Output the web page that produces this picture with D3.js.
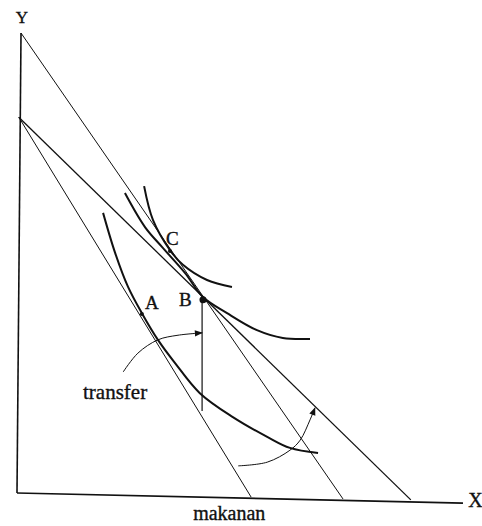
<!DOCTYPE html>
<html>
<head>
<meta charset="utf-8">
<script src="https://cdn.jsdelivr.net/npm/d3@7"></script>
<style>
  html, body { margin: 0; padding: 0; background: #fff; }
  svg { display: block; }
  text { font-family: "Liberation Serif", "DejaVu Serif", serif; fill: #111; stroke: #111; stroke-width: 0.35; }
</style>
</head>
<body>
<div id="chart"></div>
<script>
// values, in chart units (0..100 on both axes)
const yAxisLine = [[0.9, 100], [0, 0]];
const xAxisLine = [[0, 0], [100, -2.2]];

const budgetOriginal = [[0.4, 81.7], [52.5, -0.9]];
const budgetSubsidy = [[0.4, 81.7], [88.3, -1.5]];
const budgetCash = [[0.9, 100], [73.1, -1.3]];
const transferLine = [[41.5, 42.0], [41.5, 17.8]];

const curveA = [[19.3, 60.9], [22.0, 52.2], [24.9, 44.8], [28.0, 39.1], [31.6, 33.3], [35.4, 28.3],
                [41.0, 21.7], [48.4, 16.5], [56.1, 12.2], [61.2, 9.8], [67.5, 8.7]];
const curveB = [[24.2, 65.2], [28.7, 57.8], [32.5, 53.5], [37.7, 47.8], [41.7, 42.6], [47.1, 39.1],
                [53.8, 35.4], [59.6, 33.7], [65.7, 33.5]];
const curveC = [[28.5, 66.7], [30.5, 59.3], [34.3, 52.8], [37.2, 49.6], [42.6, 46.3], [48.2, 44.8]];

const arrowTransfer = [[23.8, 26.3], [27.1, 30.4], [31.6, 33.3], [36.1, 34.3], [41.5, 34.8]];
const arrowShift = [[49.6, 5.9], [56.1, 6.7], [61.2, 9.3], [63.5, 11.5], [65.7, 15.9], [66.8, 18.5]];

const points = [
  { name: "A", x: 28.0, y: 38.9, r: 2 },
  { name: "B", x: 41.7, y: 42.0, r: 3.5 },
  { name: "C", x: 34.3, y: 52.6, r: 2 }
];

const labels = [
  { text: "Y", x: 1.1, y: 102.2, size: 17, anchor: "middle" },
  { text: "X", x: 101.2, y: -3.1, size: 20, anchor: "start" },
  { text: "A", x: 28.7, y: 40.0, size: 19, anchor: "start" },
  { text: "B", x: 36.3, y: 40.6, size: 19, anchor: "start" },
  { text: "C", x: 33.4, y: 53.9, size: 19, anchor: "start" },
  { text: "transfer", x: 14.8, y: 20.4, size: 21, anchor: "start" },
  { text: "makanan", x: 39.5, y: -5.9, size: 20, anchor: "start" }
];

const width = 482, height = 526;

const x = d3.scaleLinear().domain([0, 100]).range([17, 463]);
const y = d3.scaleLinear().domain([0, 100]).range([493, 33]);

const svg = d3.select("#chart").append("svg")
  .attr("width", width)
  .attr("height", height)
  .attr("viewBox", `0 0 ${width} ${height}`);

svg.append("defs").append("marker")
  .attr("id", "head")
  .attr("viewBox", "0 0 10 10")
  .attr("refX", 9)
  .attr("refY", 5)
  .attr("markerWidth", 10)
  .attr("markerHeight", 8)
  .attr("markerUnits", "userSpaceOnUse")
  .attr("orient", "auto")
  .append("path")
  .attr("d", "M0,1 L10,5 L0,9 Z")
  .attr("fill", "#111");

const straight = d3.line().x((d) => x(d[0])).y((d) => y(d[1]));
const smooth = d3.line().x((d) => x(d[0])).y((d) => y(d[1])).curve(d3.curveCatmullRom.alpha(0.5));

// axes
[yAxisLine, xAxisLine].forEach((d) => {
  svg.append("path").attr("d", straight(d))
    .attr("fill", "none").attr("stroke", "#111").attr("stroke-width", 1.6);
});

// budget lines
[[budgetOriginal, 1], [budgetCash, 1], [budgetSubsidy, 1.3], [transferLine, 1.2]].forEach(([d, w]) => {
  svg.append("path").attr("d", straight(d))
    .attr("fill", "none").attr("stroke", "#111").attr("stroke-width", w);
});

// indifference curves
[curveA, curveB, curveC].forEach((d) => {
  svg.append("path").attr("d", smooth(d))
    .attr("fill", "none").attr("stroke", "#111").attr("stroke-width", 2);
});

// arrows
[arrowTransfer, arrowShift].forEach((d) => {
  svg.append("path").attr("d", smooth(d))
    .attr("fill", "none").attr("stroke", "#111").attr("stroke-width", 1)
    .attr("marker-end", "url(#head)");
});

svg.append("g").selectAll("circle")
  .data(points)
  .join("circle")
  .attr("cx", (d) => x(d.x))
  .attr("cy", (d) => y(d.y))
  .attr("r", (d) => d.r)
  .attr("fill", "#111");

svg.append("g").selectAll("text")
  .data(labels)
  .join("text")
  .attr("x", (d) => x(d.x))
  .attr("y", (d) => y(d.y))
  .attr("font-size", (d) => d.size)
  .attr("text-anchor", (d) => d.anchor)
  .text((d) => d.text);
</script>
</body>
</html>
